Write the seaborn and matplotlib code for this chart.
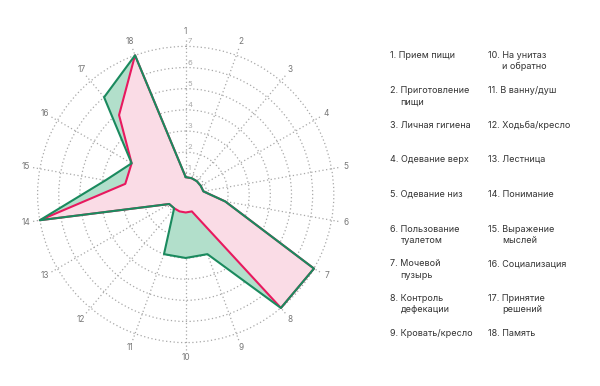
import numpy as np
import pandas as pd
import matplotlib
matplotlib.use("Agg")
import matplotlib.pyplot as plt
import matplotlib.transforms as mtransforms
import seaborn as sns

# axis numbers 1..18 around the radar
axis_ids = [str(i) for i in range(1, 19)]
# outer (green) and inner (pink) series, scale 0..7
green_vals = [0.82, 0.82, 0.82, 0.82, 0.85, 1.9, 7, 7, 3, 3, 3, 0.85, 0.9, 7, 3.85, 2.95, 6, 7]
pink_vals = [0.82, 0.82, 0.82, 0.82, 0.85, 1.9, 7, 7, 0.85, 0.85, 0.85, 0.85, 0.9, 7, 2.9, 2.95, 4.9, 7]
ring_ticks = [1, 2, 3, 4, 5, 6, 7]

# legend on the right
legend_nums = [f"{i}." for i in range(1, 19)]
legend_text = ["Прием пищи", "Приготовление\nпищи", "Личная гигиена", "Одевание верх",
               "Одевание низ", "Пользование\nтуалетом", "Мочевой\nпузырь",
               "Контроль\nдефекации", "Кровать/кресло",
               "На унитаз\nи обратно", "В ванну/душ", "Ходьба/кресло", "Лестница",
               "Понимание", "Выражение\nмыслей", "Социализация", "Принятие\nрешений", "Память"]
legend_rows_y = [55, 90.5, 125, 159.5, 194.3, 229.3, 264, 298.3, 334]

GREEN = "#1a8a5e"
GREEN_FILL = "#b2dfcb"
PINK_FILL = "#fadce6"
RED = "#e8195f"

sns.set_theme(style="white")
plt.rcParams["font.family"] = ["Inter", "DejaVu Sans"]

W, H = 600, 386
fig = plt.figure(figsize=(6, 3.86), dpi=100)
cx, cy, R = 185.7, 194.5, 157
ax = fig.add_axes([(cx - R) / W, 1 - (cy + R) / H, 2 * R / W, 2 * R / H], projection="polar")
ax.set_theta_zero_location("N")
ax.set_theta_direction(-1)

theta = np.deg2rad(np.arange(18) * 20.0)
df = pd.DataFrame({"theta": np.append(theta, theta[0] + 2 * np.pi),
                   "green": green_vals + green_vals[:1],
                   "pink": pink_vals + pink_vals[:1]})

ax.fill(df["theta"], df["green"], color=GREEN_FILL, zorder=1, lw=0)
ax.fill(df["theta"], df["pink"], color=PINK_FILL, zorder=1.1, lw=0)
# solid centre disk at the lowest value, covering the grid
circ = np.linspace(0, 2 * np.pi, 120)
ax.fill(circ, np.full_like(circ, min(pink_vals)), color=PINK_FILL, zorder=2, lw=0)
sns.lineplot(data=df, x="theta", y="pink", sort=False, estimator=None, color=RED, lw=1.5, ax=ax, zorder=3)
sns.lineplot(data=df, x="theta", y="green", sort=False, estimator=None, color=GREEN, lw=1.5, ax=ax, zorder=4)

ax.set_ylim(0, 7.42)
ax.set_yticks(ring_ticks)
ax.set_yticklabels([])
ax.set_xticks(theta)
ax.set_xticklabels(axis_ids, fontsize=6, color="#777777")
ax.tick_params(axis="x", pad=-9)
ax.grid(True, color="#a8a8a8", lw=0.9, linestyle=(0, (1, 2)))
ax.spines["polar"].set_visible(False)
ax.set_xlabel("")
ax.set_ylabel("")
ax.set_facecolor("none")

off = mtransforms.offset_copy(ax.transData, fig=fig, x=1.5, y=5, units="dots")
for v in ring_ticks:
    ax.text(0, v, str(v), transform=off, ha="left", va="center", fontsize=5.5, color="#aaaaaa", zorder=5)

# legend columns: x of first line, x of continuation lines
col_x = [(390, 400.5), (488.3, 502.3)]
for i, (num, txt) in enumerate(zip(legend_nums, legend_text)):
    col, row = divmod(i, 9)
    xn, xt = col_x[col]
    y = legend_rows_y[row]
    lines = txt.split("\n")
    fig.text(xn / W, 1 - y / H, num + " " + lines[0], fontsize=6.5, color="#333333",
             ha="left", va="center")
    for j, line in enumerate(lines[1:], start=1):
        fig.text(xt / W, 1 - (y + j * 11.4) / H, line, fontsize=6.5, color="#333333",
                 ha="left", va="center")

fig.savefig("out.png", dpi=100)
